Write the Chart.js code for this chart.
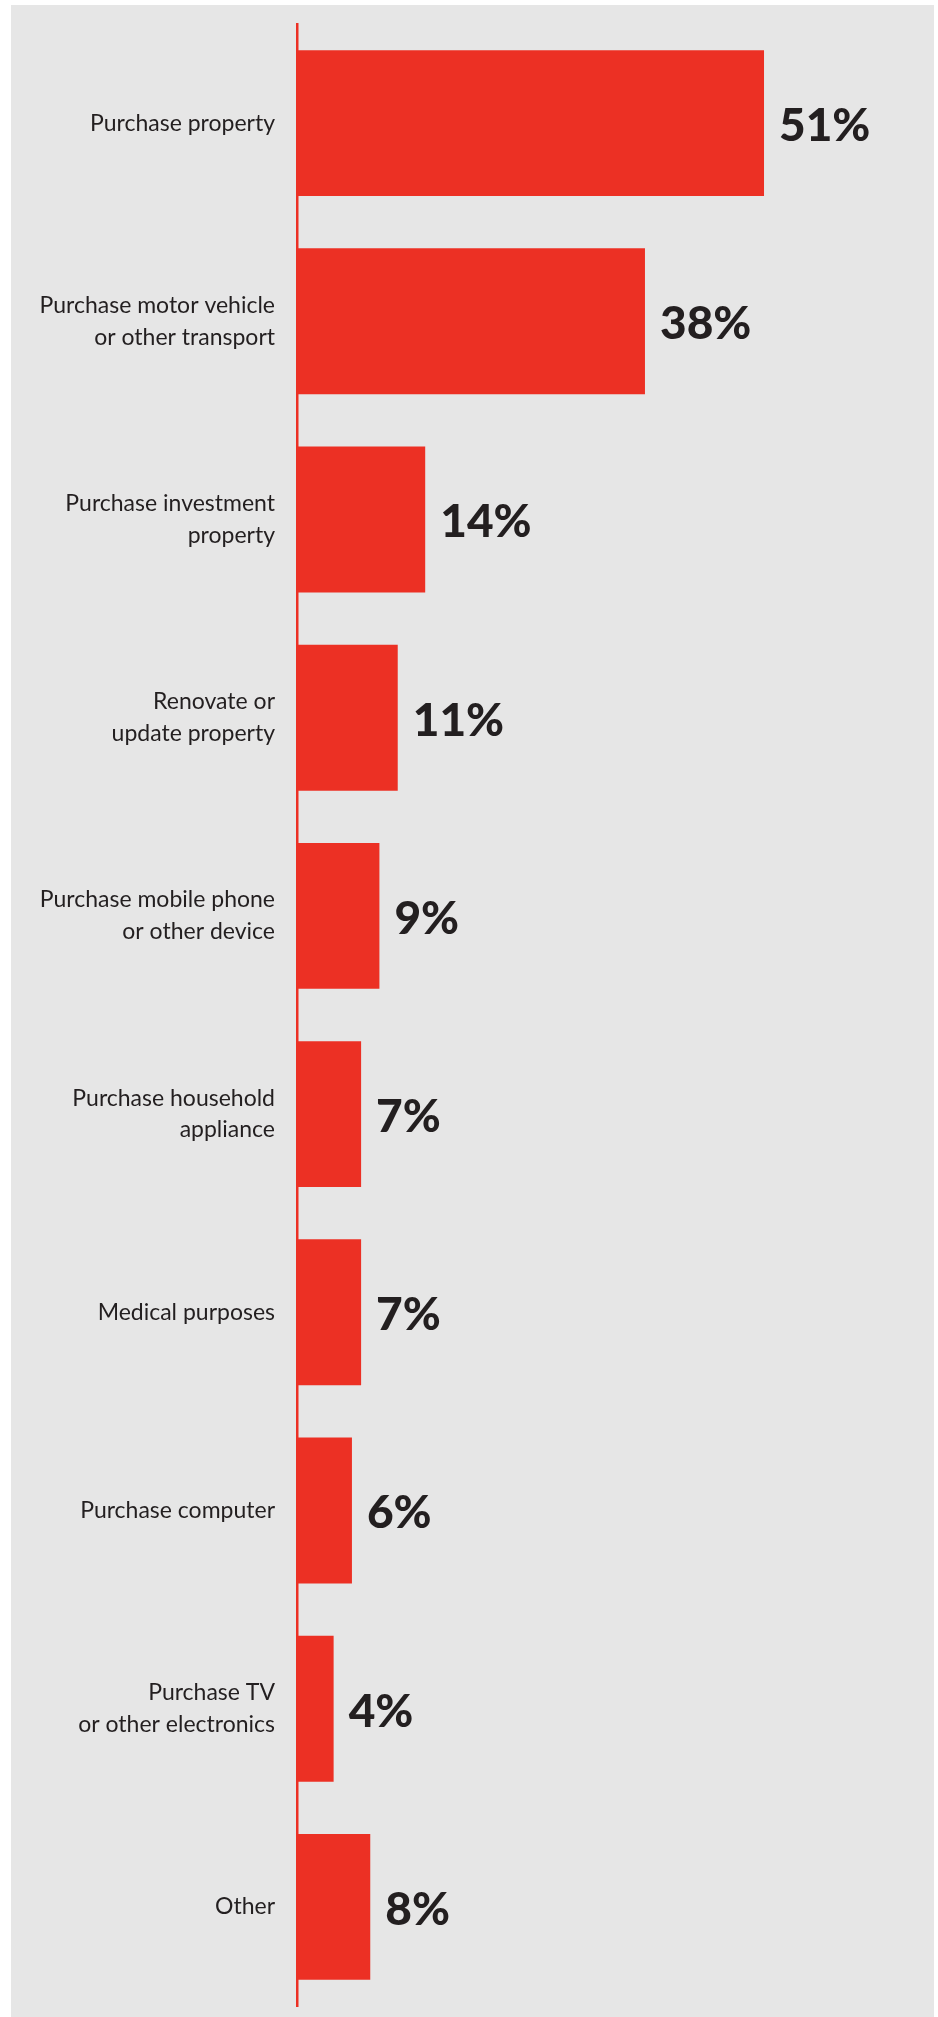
<!DOCTYPE html>
<html>
<head>
<meta charset="utf-8">
<script src="https://cdn.jsdelivr.net/npm/chart.js@4.4.1/dist/chart.umd.min.js"></script>
<style>
  html, body { margin: 0; padding: 0; background: #ffffff; overflow: hidden; }
  #panel {
    position: absolute; left: 11px; top: 5px;
    width: 923px; height: 2012px;
    background: #e6e6e6;
  }
  #wrap { position: absolute; left: 0; top: 0; width: 938px; height: 2017px; }
</style>
</head>
<body>
<div id="panel"></div>
<div id="wrap"><canvas id="usesChart"></canvas></div>
<script>
// categories (multi-line ones split into arrays)
const categories = [
    "Purchase property",
    ["Purchase motor vehicle", "or other transport"],
    ["Purchase investment", "property"],
    ["Renovate or", "update property"],
    ["Purchase mobile phone", "or other device"],
    ["Purchase household", "appliance"],
    "Medical purposes",
    "Purchase computer",
    ["Purchase TV", "or other electronics"],
    "Other"
];
const shares = [51, 38, 14, 11, 9, 7, 7, 6, 4, 8];

const RED = '#ec3024';
const INK = '#231f20';

// draws the "51%" style labels at the end of each bar
const valueLabels = {
    id: 'valueLabels',
    afterDatasetsDraw(chart) {
        const ctx = chart.ctx;
        const meta = chart.getDatasetMeta(0);
        ctx.save();
        ctx.fillStyle = INK;
        ctx.font = '900 46px Lato';
        ctx.textAlign = 'left';
        ctx.textBaseline = 'middle';
        meta.data.forEach((bar, i) => {
            ctx.fillText(shares[i] + '%', bar.x + 15, bar.y + 3);
        });
        ctx.restore();
    }
};

new Chart(document.getElementById('usesChart'), {
    type: 'bar',
    data: {
        labels: categories,
        datasets: [{
            data: shares,
            backgroundColor: RED,
            borderWidth: 0,
            barPercentage: 0.736,
            categoryPercentage: 1.0
        }]
    },
    options: {
        indexAxis: 'y',
        responsive: true,
        maintainAspectRatio: false,
        animation: false,
        layout: { padding: { top: 24, bottom: 11, right: 0, left: 0 } },
        plugins: {
            legend: { display: false },
            tooltip: { enabled: false }
        },
        scales: {
            x: {
                display: false,
                min: 0,
                max: 70
            },
            y: {
                afterFit(scale) {
                    scale.width = 297;
                    scale.paddingTop = 0;
                    scale.paddingBottom = 0;
                },
                grid: { display: false, drawTicks: false },
                border: { display: true, color: RED, width: 2.5 },
                ticks: {
                    color: INK,
                    padding: 22,
                    font: { family: 'Lato', size: 23, weight: '400', lineHeight: 1.38 }
                }
            }
        }
    },
    plugins: [valueLabels]
});
</script>
</body>
</html>
